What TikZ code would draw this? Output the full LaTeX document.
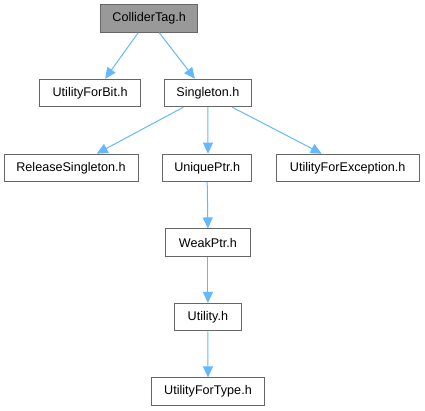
\documentclass[tikz,border=0pt]{standalone}
\usepackage{fontspec}
\setmainfont{Liberation Sans}
\usetikzlibrary{arrows.meta,calc}
\definecolor{edgeblue}{HTML}{63B8FF}
\definecolor{boxborder}{HTML}{666666}
\definecolor{topfill}{HTML}{999999}
\tikzset{
  filebox/.style={draw=boxborder, fill=white, line width=1pt, minimum height=27.5pt, inner sep=0pt, font=\fontsize{12.6pt}{14pt}\selectfont, text=black},
  topbox/.style={filebox, fill=topfill},
  dep/.style={draw=edgeblue, line width=1pt, -{Triangle[length=11pt,width=10pt]}}
}
\begin{document}
\begin{tikzpicture}[x=1pt,y=-1pt]
\useasboundingbox (0,0) rectangle (425,411);
\node[topbox, minimum width=97pt] (ct) at (149.2,18.5) {ColliderTag.h};
\node[filebox, minimum width=101.7pt] (ufb) at (90.1,93) {UtilityForBit.h};
\node[filebox, minimum width=87.7pt] (sg) at (207.9,93) {Singleton.h};
\node[filebox, minimum width=134pt] (rs) at (71,167.9) {ReleaseSingleton.h};
\node[filebox, minimum width=89pt] (up) at (207.2,167.9) {UniquePtr.h};
\node[filebox, minimum width=143.3pt] (ufe) at (347.7,167.9) {UtilityForException.h};
\node[filebox, minimum width=84.3pt] (wp) at (207.9,242.7) {WeakPtr.h};
\node[filebox, minimum width=66.3pt] (ut) at (207.9,317.2) {Utility.h};
\node[filebox, minimum width=112.6pt] (uft) at (208,391.7) {UtilityForType.h};
\draw[dep] ($(ct.south)+(-11,0)$) -- ($(ufb.north)+(15,0)$);
\draw[dep] ($(ct.south)+(10,0)$) -- ($(sg.north)+(-13,0)$);
\draw[dep] ($(sg.south)+(-24.6,0)$) -- ($(rs.north)+(25.7,0)$);
\draw[dep] ($(sg.south)+(0,0)$) -- ($(up.north)+(0.8,0)$);
\draw[dep] ($(sg.south)+(24.4,0)$) -- ($(ufe.north)+(-26,0)$);
\draw[dep] (up.south) -- (wp.north);
\draw[dep] (wp.south) -- (ut.north);
\draw[dep] (ut.south) -- (uft.north);
\end{tikzpicture}
\end{document}
